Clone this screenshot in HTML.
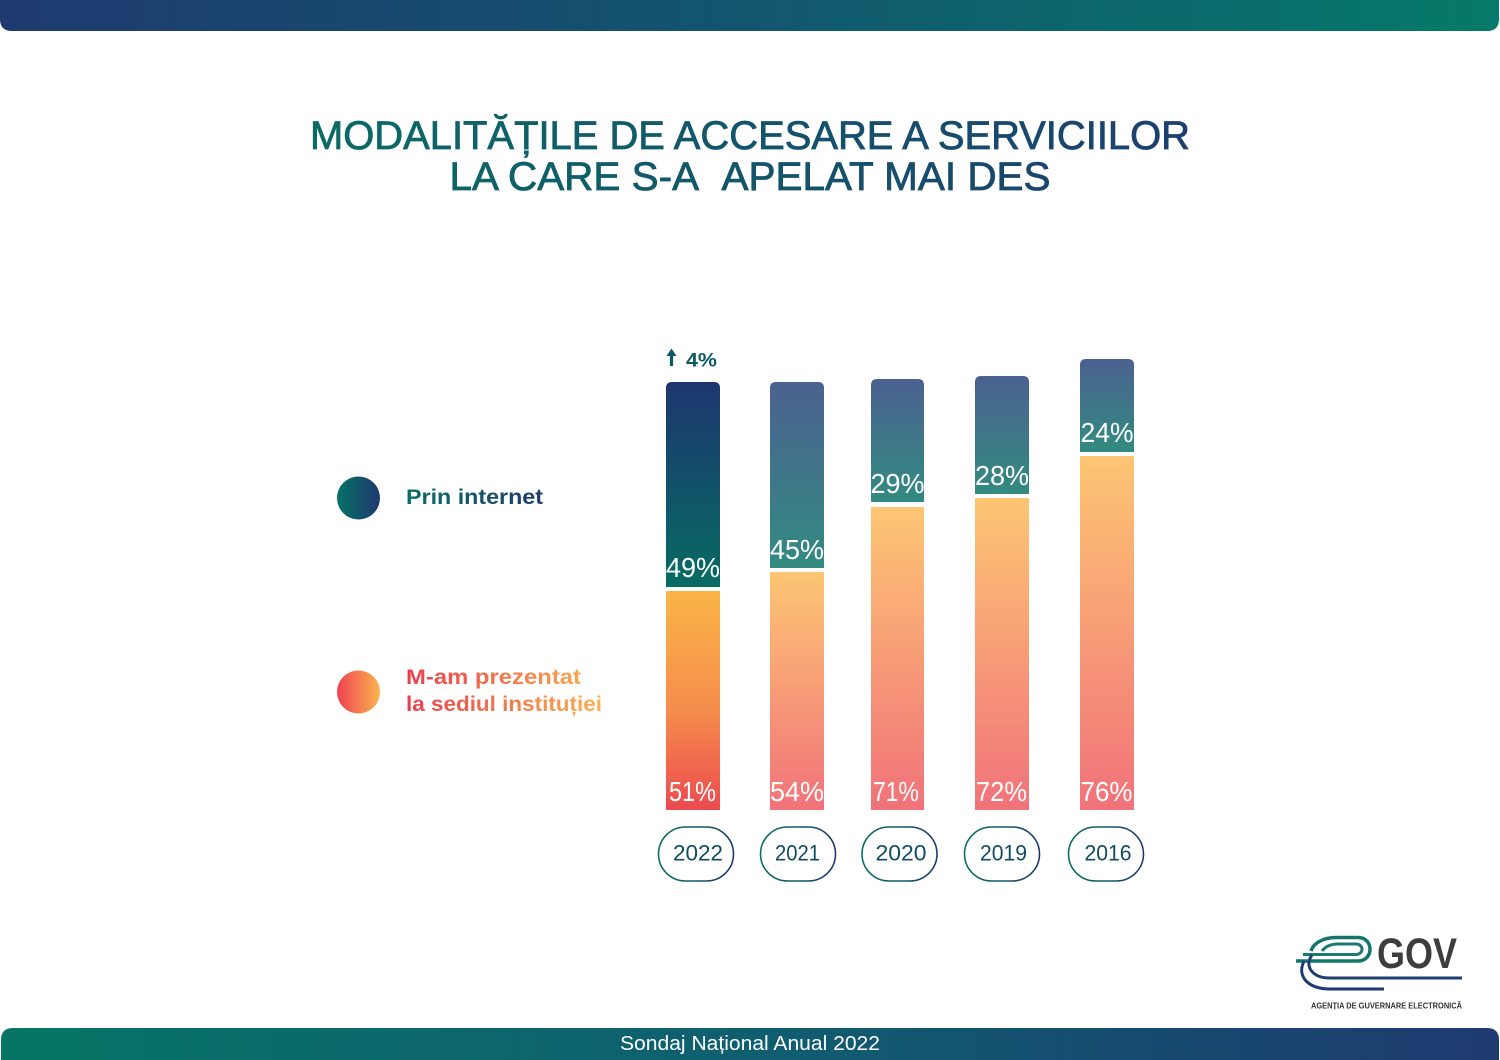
<!DOCTYPE html>
<html>
<head>
<meta charset="utf-8">
<style>
  html,body{margin:0;padding:0;background:#fff;}
  body{width:1500px;height:1060px;overflow:hidden;}
  svg{display:block;}
  text{font-family:"Liberation Sans", "DejaVu Sans", sans-serif;}
</style>
</head>
<body>
<svg width="1500" height="1060" viewBox="0 0 1500 1060" xmlns="http://www.w3.org/2000/svg">
  <defs>
    <linearGradient id="topBar" x1="0" y1="0" x2="1500" y2="0" gradientUnits="userSpaceOnUse">
      <stop offset="0" stop-color="#1e3a70"/>
      <stop offset="0.5" stop-color="#12566e"/>
      <stop offset="1" stop-color="#067a6a"/>
    </linearGradient>
    <linearGradient id="botBar" x1="0" y1="0" x2="1500" y2="0" gradientUnits="userSpaceOnUse">
      <stop offset="0" stop-color="#077566"/>
      <stop offset="0.5" stop-color="#0f5e70"/>
      <stop offset="1" stop-color="#1e3a70"/>
    </linearGradient>
    <linearGradient id="title1" x1="310" y1="0" x2="1190" y2="0" gradientUnits="userSpaceOnUse">
      <stop offset="0" stop-color="#0a6b66"/>
      <stop offset="1" stop-color="#1c3f6f"/>
    </linearGradient>
    <linearGradient id="legBlue" x1="406" y1="0" x2="543" y2="0" gradientUnits="userSpaceOnUse">
      <stop offset="0" stop-color="#087064"/>
      <stop offset="1" stop-color="#1d3a6e"/>
    </linearGradient>
    <linearGradient id="legOrange" x1="406" y1="0" x2="602" y2="0" gradientUnits="userSpaceOnUse">
      <stop offset="0" stop-color="#ea3e4e"/>
      <stop offset="1" stop-color="#fbb24e"/>
    </linearGradient>
    <linearGradient id="circBlue" x1="0" y1="0" x2="1" y2="0">
      <stop offset="0" stop-color="#077266"/>
      <stop offset="1" stop-color="#1d386e"/>
    </linearGradient>
    <linearGradient id="circOrange" x1="0" y1="0" x2="1" y2="0">
      <stop offset="0" stop-color="#ee4150"/>
      <stop offset="1" stop-color="#fbb550"/>
    </linearGradient>
    <linearGradient id="blue1" x1="0" y1="0" x2="0" y2="1">
      <stop offset="0" stop-color="#1d366f"/>
      <stop offset="1" stop-color="#066c63"/>
    </linearGradient>
    <linearGradient id="blueN" x1="0" y1="0" x2="0" y2="1">
      <stop offset="0" stop-color="#4b6190"/>
      <stop offset="1" stop-color="#328b80"/>
    </linearGradient>
    <linearGradient id="orange1" x1="0" y1="0" x2="0" y2="1">
      <stop offset="0" stop-color="#fbb447"/>
      <stop offset="0.55" stop-color="#f58c4c"/>
      <stop offset="1" stop-color="#ec4a4f"/>
    </linearGradient>
    <linearGradient id="orangeN" x1="0" y1="0" x2="0" y2="1">
      <stop offset="0" stop-color="#fdc673"/>
      <stop offset="1" stop-color="#f1727a"/>
    </linearGradient>
    <linearGradient id="pill" x1="0" y1="0" x2="1" y2="0">
      <stop offset="0" stop-color="#0a7064"/>
      <stop offset="1" stop-color="#1d3a6e"/>
    </linearGradient>
  </defs>

  <!-- top bar -->
  <path d="M0,0 H1499 V19 Q1499,31 1487,31 H12 Q0,31 0,19 Z" fill="url(#topBar)"/>
  <!-- bottom bar -->
  <path d="M1,1040 Q1,1028 13,1028 H1487 Q1499,1028 1499,1040 V1060 H1 Z" fill="url(#botBar)"/>
  <text x="750" y="1050" font-size="20" fill="#ffffff" text-anchor="middle" textLength="260" lengthAdjust="spacingAndGlyphs">Sondaj Național Anual 2022</text>

  <!-- title -->
  <text x="750" y="149" font-size="40" fill="url(#title1)" stroke="url(#title1)" stroke-width="0.8" text-anchor="middle" textLength="880" lengthAdjust="spacingAndGlyphs">MODALITĂȚILE DE ACCESARE A SERVICIILOR</text>
  <text x="750" y="190" font-size="40" fill="url(#title1)" stroke="url(#title1)" stroke-width="0.8" text-anchor="middle" textLength="601" lengthAdjust="spacingAndGlyphs">LA CARE S-A&#160;&#160;APELAT MAI DES</text>

  <!-- legend -->
  <circle cx="358.5" cy="498" r="21.5" fill="url(#circBlue)"/>
  <text x="406" y="504" font-size="21" font-weight="bold" fill="url(#legBlue)" textLength="137" lengthAdjust="spacingAndGlyphs">Prin internet</text>
  <circle cx="358.5" cy="692" r="21.5" fill="url(#circOrange)"/>
  <text x="406" y="684" font-size="21" font-weight="bold" fill="url(#legOrange)" textLength="175" lengthAdjust="spacingAndGlyphs">M-am prezentat</text>
  <text x="406" y="711" font-size="21" font-weight="bold" fill="url(#legOrange)" textLength="196" lengthAdjust="spacingAndGlyphs">la sediul instituției</text>

  <!-- arrow 4% -->
  <path d="M671.5,366 V354" stroke="#0d5963" stroke-width="3.2"/>
  <path d="M666.5,356 L671.5,348.5 L676.5,356 Z" fill="#0d5963"/>
  <text x="686" y="366.5" font-size="19" font-weight="bold" fill="#0d5963" textLength="31" lengthAdjust="spacingAndGlyphs">4%</text>

  <!-- bars -->
  <path d="M666,587 V388 Q666,382 672,382 H714 Q720,382 720,388 V587 Z" fill="url(#blue1)"/>
  <rect x="666" y="591" width="54" height="219" fill="url(#orange1)"/>
  <path d="M770,568 V388 Q770,382 776,382 H818 Q824,382 824,388 V568 Z" fill="url(#blueN)"/>
  <rect x="770" y="572" width="54" height="238" fill="url(#orangeN)"/>
  <path d="M871,502 V385 Q871,379 877,379 H918 Q924,379 924,385 V502 Z" fill="url(#blueN)"/>
  <rect x="871" y="507" width="53" height="303" fill="url(#orangeN)"/>
  <path d="M975,494 V382 Q975,376 981,376 H1023 Q1029,376 1029,382 V494 Z" fill="url(#blueN)"/>
  <rect x="975" y="498" width="54" height="312" fill="url(#orangeN)"/>
  <path d="M1080,452 V365 Q1080,359 1086,359 H1128 Q1134,359 1134,365 V452 Z" fill="url(#blueN)"/>
  <rect x="1080" y="456" width="54" height="354" fill="url(#orangeN)"/>

  <!-- value labels -->
  <g fill="#ffffff" font-size="28" text-anchor="middle">
    <text x="693" y="577" textLength="54" lengthAdjust="spacingAndGlyphs">49%</text>
    <text x="797" y="559" textLength="54" lengthAdjust="spacingAndGlyphs">45%</text>
    <text x="897.5" y="493" textLength="54" lengthAdjust="spacingAndGlyphs">29%</text>
    <text x="1002" y="485" textLength="54" lengthAdjust="spacingAndGlyphs">28%</text>
    <text x="1107" y="442" textLength="53" lengthAdjust="spacingAndGlyphs">24%</text>

    <text x="692.5" y="801" textLength="47" lengthAdjust="spacingAndGlyphs">51%</text>
    <text x="797" y="801" textLength="54" lengthAdjust="spacingAndGlyphs">54%</text>
    <text x="896" y="801" textLength="46" lengthAdjust="spacingAndGlyphs">71%</text>
    <text x="1001.5" y="801" textLength="51" lengthAdjust="spacingAndGlyphs">72%</text>
    <text x="1106.5" y="801" textLength="52" lengthAdjust="spacingAndGlyphs">76%</text>
  </g>

  <!-- year pills -->
  <g fill="#ffffff" stroke="url(#pill)" stroke-width="1.6">
    <rect x="658.5" y="827" width="75" height="54" rx="27"/>
    <rect x="760.5" y="827" width="75" height="54" rx="27"/>
    <rect x="862" y="827" width="75" height="54" rx="27"/>
    <rect x="964.5" y="827" width="75" height="54" rx="27"/>
    <rect x="1068.5" y="827" width="75" height="54" rx="27"/>
  </g>
  <g fill="#114b62" font-size="22.5" text-anchor="middle">
    <text x="698" y="860.5" textLength="50" lengthAdjust="spacingAndGlyphs">2022</text>
    <text x="797.5" y="860.5" textLength="45" lengthAdjust="spacingAndGlyphs">2021</text>
    <text x="901" y="860.5" textLength="51" lengthAdjust="spacingAndGlyphs">2020</text>
    <text x="1003.5" y="860.5" textLength="47" lengthAdjust="spacingAndGlyphs">2019</text>
    <text x="1108" y="860.5" textLength="47" lengthAdjust="spacingAndGlyphs">2016</text>
  </g>

  <!-- logo -->
  <g fill="none" stroke-linecap="butt">
    <path d="M1296,961 H1358 C1374,961 1374,937.5 1358,937.5 H1336 C1322,937.5 1313,944 1311,951" stroke="#14756a" stroke-width="3.5"/>
    <path d="M1303,954.5 H1356 C1364,954.5 1364,944 1356,944 H1338 C1330,944 1325,947 1322,951" stroke="#1e7a70" stroke-width="3"/>
    <path d="M1312,955 C1304,966 1312,978 1330,978 H1462" stroke="#1d3f72" stroke-width="3"/>
    <path d="M1304,961 C1296,978 1310,989 1330,989 H1384" stroke="#1e3a72" stroke-width="3"/>
  </g>
  <text x="1377" y="968" font-size="43" font-weight="bold" fill="#3d3d40" textLength="80" lengthAdjust="spacingAndGlyphs">GOV</text>
  <text x="1311" y="1008.5" font-size="8.5" font-weight="bold" fill="#333333" textLength="151" lengthAdjust="spacingAndGlyphs">AGENȚIA DE GUVERNARE ELECTRONICĂ</text>
</svg>
</body>
</html>
